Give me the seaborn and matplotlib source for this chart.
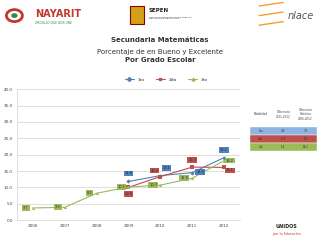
import numpy as np
import pandas as pd
import matplotlib
matplotlib.use('Agg')
import matplotlib.pyplot as plt
import seaborn as sns

# Data
years = [2006, 2007, 2008, 2009, 2010, 2011, 2012]
primero = [np.nan, np.nan, np.nan, 11.8, 13.6, 14.5, 19.1]
segundo = [np.nan, np.nan, np.nan, 10.0, 13.3, 16.2, 16.1]
tercero = [3.7, 3.9, 8.2, 10.1, 10.7, 12.8, 18.2]
grados = ['1ro', '2do', '3ro']

tabla_header = ['Modalidad', 'Diferencia\n2011-2012', 'Diferencia\nHistórica\n2006-2012']
tabla_rows = [['1ro', '4.6', '7.3'], ['2do', '-0.1', '6.1'], ['3ro', '5.4', '14.5']]

colors = {'1ro': '#4F81BD', '2do': '#C0504D', '3ro': '#9BBB59'}
row_colors = ['#8DB4E2', '#C0504D', '#9BBB59']
markers = {'1ro': 'D', '2do': 's', '3ro': '^'}

# label offsets in pixels (dx, dy) per series
offsets = {
    '1ro': [(0, 0)] * 3 + [(0, 8), (6, 8), (8, 1), (0, 8)],
    '2do': [(0, 0)] * 3 + [(0, -7), (-6, 6), (0, 7), (6, -3)],
    '3ro': [(-7, 0), (-7, 0), (-7, 0), (-7, 0), (-7, 0), (-8, 0), (6, 0)],
}

df = pd.DataFrame({'year': years, '1ro': primero, '2do': segundo, '3ro': tercero})
long = df.melt(id_vars='year', var_name='grado', value_name='valor').dropna()

sns.set_theme(style='white')
plt.rcParams['font.family'] = ['DejaVu Sans']

fig = plt.figure(figsize=(3.2, 2.4), dpi=100)
ax = fig.add_axes([0.053, 0.083, 0.697, 0.545])

sns.lineplot(data=long, x='year', y='valor', hue='grado', style='grado',
             palette=colors, markers=markers, dashes=False, markersize=2.2,
             markeredgewidth=0, linewidth=0.8, legend=False, ax=ax)

for g in grados:
    for yr, v, off in zip(years, df[g], offsets[g]):
        if np.isnan(v):
            continue
        ax.annotate(f'{v:.1f}', (yr, v), xytext=off, textcoords='offset pixels',
                    ha='center', va='center', fontsize=2.6, color='#333333',
                    bbox=dict(boxstyle='square,pad=0.25', fc=colors[g], ec='none'))

ax.set_xlim(2005.5, 2012.5)
ax.set_ylim(0, 40)
ax.set_yticks(np.arange(0, 40.1, 5))
ax.set_yticklabels([f'{t:.1f}' for t in np.arange(0, 40.1, 5)])
ax.set_xticks(years)
ax.tick_params(labelsize=3, colors='#444444', length=0, pad=3)
ax.yaxis.grid(True, color='#D9D9D9', linewidth=0.6)
ax.set_xlabel('')
ax.set_ylabel('')
for s in ['top', 'right']:
    ax.spines[s].set_visible(False)
for s in ['left', 'bottom']:
    ax.spines[s].set_color('#D9D9D9')
    ax.spines[s].set_linewidth(0.6)

# legend
handles = [plt.Line2D([], [], color=colors[g], marker=markers[g], markersize=2,
                      linewidth=0.8) for g in grados]
fig.legend(handles, grados, loc='center', bbox_to_anchor=(0.52, 0.667), ncol=3,
           frameon=False, fontsize=3.2, handlelength=2.0, columnspacing=2.6)

# titles
fig.text(0.5, 0.835, 'Secundaria Matemáticas', ha='center', va='center',
         fontsize=5, fontweight='bold', color='#333333')
fig.text(0.5, 0.785, 'Porcentaje de en Bueno y Excelente', ha='center',
         va='center', fontsize=5, color='#333333')
fig.text(0.5, 0.748, 'Por Grado Escolar', ha='center', va='center',
         fontsize=5, fontweight='bold', color='#333333')

# summary table
tab = fig.add_axes([0.78, 0.37, 0.21, 0.2])
tab.set_axis_off()
tab.set_xlim(0, 3)
tab.set_ylim(0, 6)
for j, h in enumerate(tabla_header):
    tab.text(j + 0.5, 4.6, h, ha='center', va='center', fontsize=2, color='#444444')
for i, row in enumerate(tabla_rows):
    y0 = 2 - i
    tab.add_patch(plt.Rectangle((0, y0), 3, 1, fc=row_colors[i], ec='white', lw=0.3))
    for j, val in enumerate(row):
        tab.text(j + 0.5, y0 + 0.5, val, ha='center', va='center', fontsize=2,
                 color='#333333')

# logos (as text)
fig.add_artist(plt.Circle((0.045, 0.935), 0.025, transform=fig.transFigure,
                          fc='white', ec='#C0392B', lw=2))
fig.add_artist(plt.Circle((0.045, 0.935), 0.01, transform=fig.transFigure,
                          fc='#2E8B57', ec='none'))
fig.text(0.11, 0.94, 'NAYARIT', fontsize=7, fontweight='bold', color='#C0392B',
         va='center')
fig.text(0.11, 0.905, 'ORGULLO QUE NOS UNE', fontsize=2.2, color='#2E8B57',
         fontstyle='italic', va='center')
fig.add_artist(plt.Rectangle((0.405, 0.9), 0.045, 0.075, transform=fig.transFigure,
                             fc='#D4A017', ec='#8B0000', lw=0.8))
fig.text(0.465, 0.955, 'SEPEN', fontsize=4, fontweight='bold', color='#222222',
         va='center')
fig.text(0.465, 0.925, 'SERVICIOS DE EDUCACIÓN PÚBLICA\nDEL ESTADO DE NAYARIT',
         fontsize=1.7, color='#222222', va='center', linespacing=1.2)
for k in range(3):
    fig.add_artist(plt.Line2D([0.81, 0.885], [0.975 - k * 0.04, 0.99 - k * 0.04],
                              transform=fig.transFigure, color='#F0A030', lw=1))
fig.text(0.9, 0.935, 'nlace', fontsize=7, fontstyle='italic', color='#555555',
         va='center')
fig.text(0.895, 0.058, 'UNIDOS', fontsize=3.5, fontweight='bold', color='#222222',
         ha='center', va='center')
fig.text(0.895, 0.025, 'por la Educación', fontsize=2.4, color='#C0392B',
         ha='center', va='center')

fig.savefig('out.png', dpi=100)
